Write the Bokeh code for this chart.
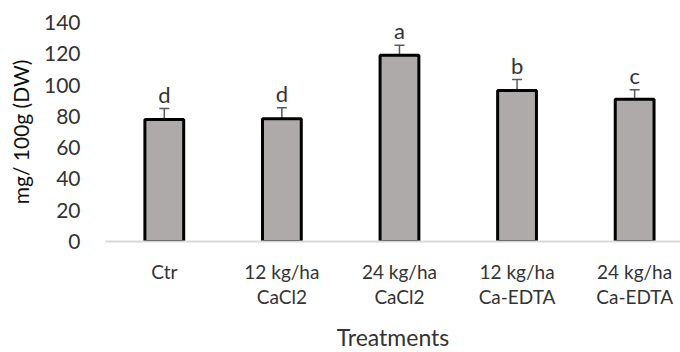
from bokeh.plotting import figure
from bokeh.models import ColumnDataSource, Range1d, FixedTicker, Whisker, TeeHead
from bokeh.core.properties import value
from bokeh.embed import file_html
from bokeh.resources import INLINE

# ---- data ----
categories = ["Ctr", "12 kg/ha\nCaCl2", "24 kg/ha\nCaCl2", "12 kg/ha\nCa-EDTA", "24 kg/ha\nCa-EDTA"]
means = [78, 78.5, 119, 96.5, 91]
errors = [7, 7, 6.5, 7, 6]
letters = ["d", "d", "a", "b", "c"]
y_ticks = [0, 20, 40, 60, 80, 100, 120, 140]

FONT = "Lato"
xs = list(range(len(categories)))
upper = [m + e for m, e in zip(means, errors)]
src = ColumnDataSource(dict(x=xs, top=means, upper=upper, letter=letters))

p = figure(width=680, height=352, output_backend="svg", toolbar_location=None,
           x_range=Range1d(-0.5, 4.39), y_range=Range1d(0, 140),
           frame_width=575, frame_height=219,
           min_border_left=105, min_border_top=22, min_border_bottom=111, min_border_right=0)
p.outline_line_color = None
p.grid.visible = False
p.background_fill_color = "white"

p.vbar(x="x", top="top", width=0.33, bottom=0, source=src,
       fill_color="#ADAAA9", line_color="black", line_width=3)

wh = Whisker(source=src, base="x", lower="top", upper="upper",
             line_color="#595959", line_width=1.5,
             upper_head=TeeHead(size=10, line_color="#595959", line_width=1.5),
             lower_head=None)
p.add_layout(wh)

p.text(x="x", y="upper", text="letter", source=src, text_align="center",
       text_baseline="bottom", y_offset=-1, text_font=value(FONT),
       text_font_size="22px", text_color="#333333")

# y axis
p.yaxis.ticker = FixedTicker(ticks=y_ticks)
p.yaxis.axis_line_color = None
p.yaxis.major_tick_line_color = None
p.yaxis.minor_tick_line_color = None
p.yaxis.major_label_standoff = 19
p.yaxis.major_label_text_font = FONT
p.yaxis.major_label_text_font_size = "21px"
p.yaxis.major_label_text_color = "#333333"
p.yaxis.axis_label = "mg/ 100g (DW)"
p.yaxis.axis_label_text_font = FONT
p.yaxis.axis_label_text_font_size = "21px"
p.yaxis.axis_label_text_font_style = "normal"
p.yaxis.axis_label_text_color = "#111111"
p.yaxis.axis_label_standoff = 8

# x axis
p.xaxis.ticker = FixedTicker(ticks=xs)
p.xaxis.major_label_overrides = {i: c for i, c in zip(xs, categories)}
p.xaxis.axis_line_color = "#D9D9D9"
p.xaxis.axis_line_width = 2
p.xaxis.major_tick_line_color = None
p.xaxis.minor_tick_line_color = None
p.xaxis.major_label_standoff = 12
p.xaxis.major_label_text_font = FONT
p.xaxis.major_label_text_font_size = "19px"
p.xaxis.major_label_text_color = "#333333"
p.xaxis.major_label_text_line_height = 1.1
p.xaxis.axis_label = "Treatments"
p.xaxis.axis_label_text_font = FONT
p.xaxis.axis_label_text_font_size = "23px"
p.xaxis.axis_label_text_font_style = "normal"
p.xaxis.axis_label_text_color = "#333333"
p.xaxis.axis_label_standoff = 12

open("out.html", "w").write(file_html(p, INLINE))
